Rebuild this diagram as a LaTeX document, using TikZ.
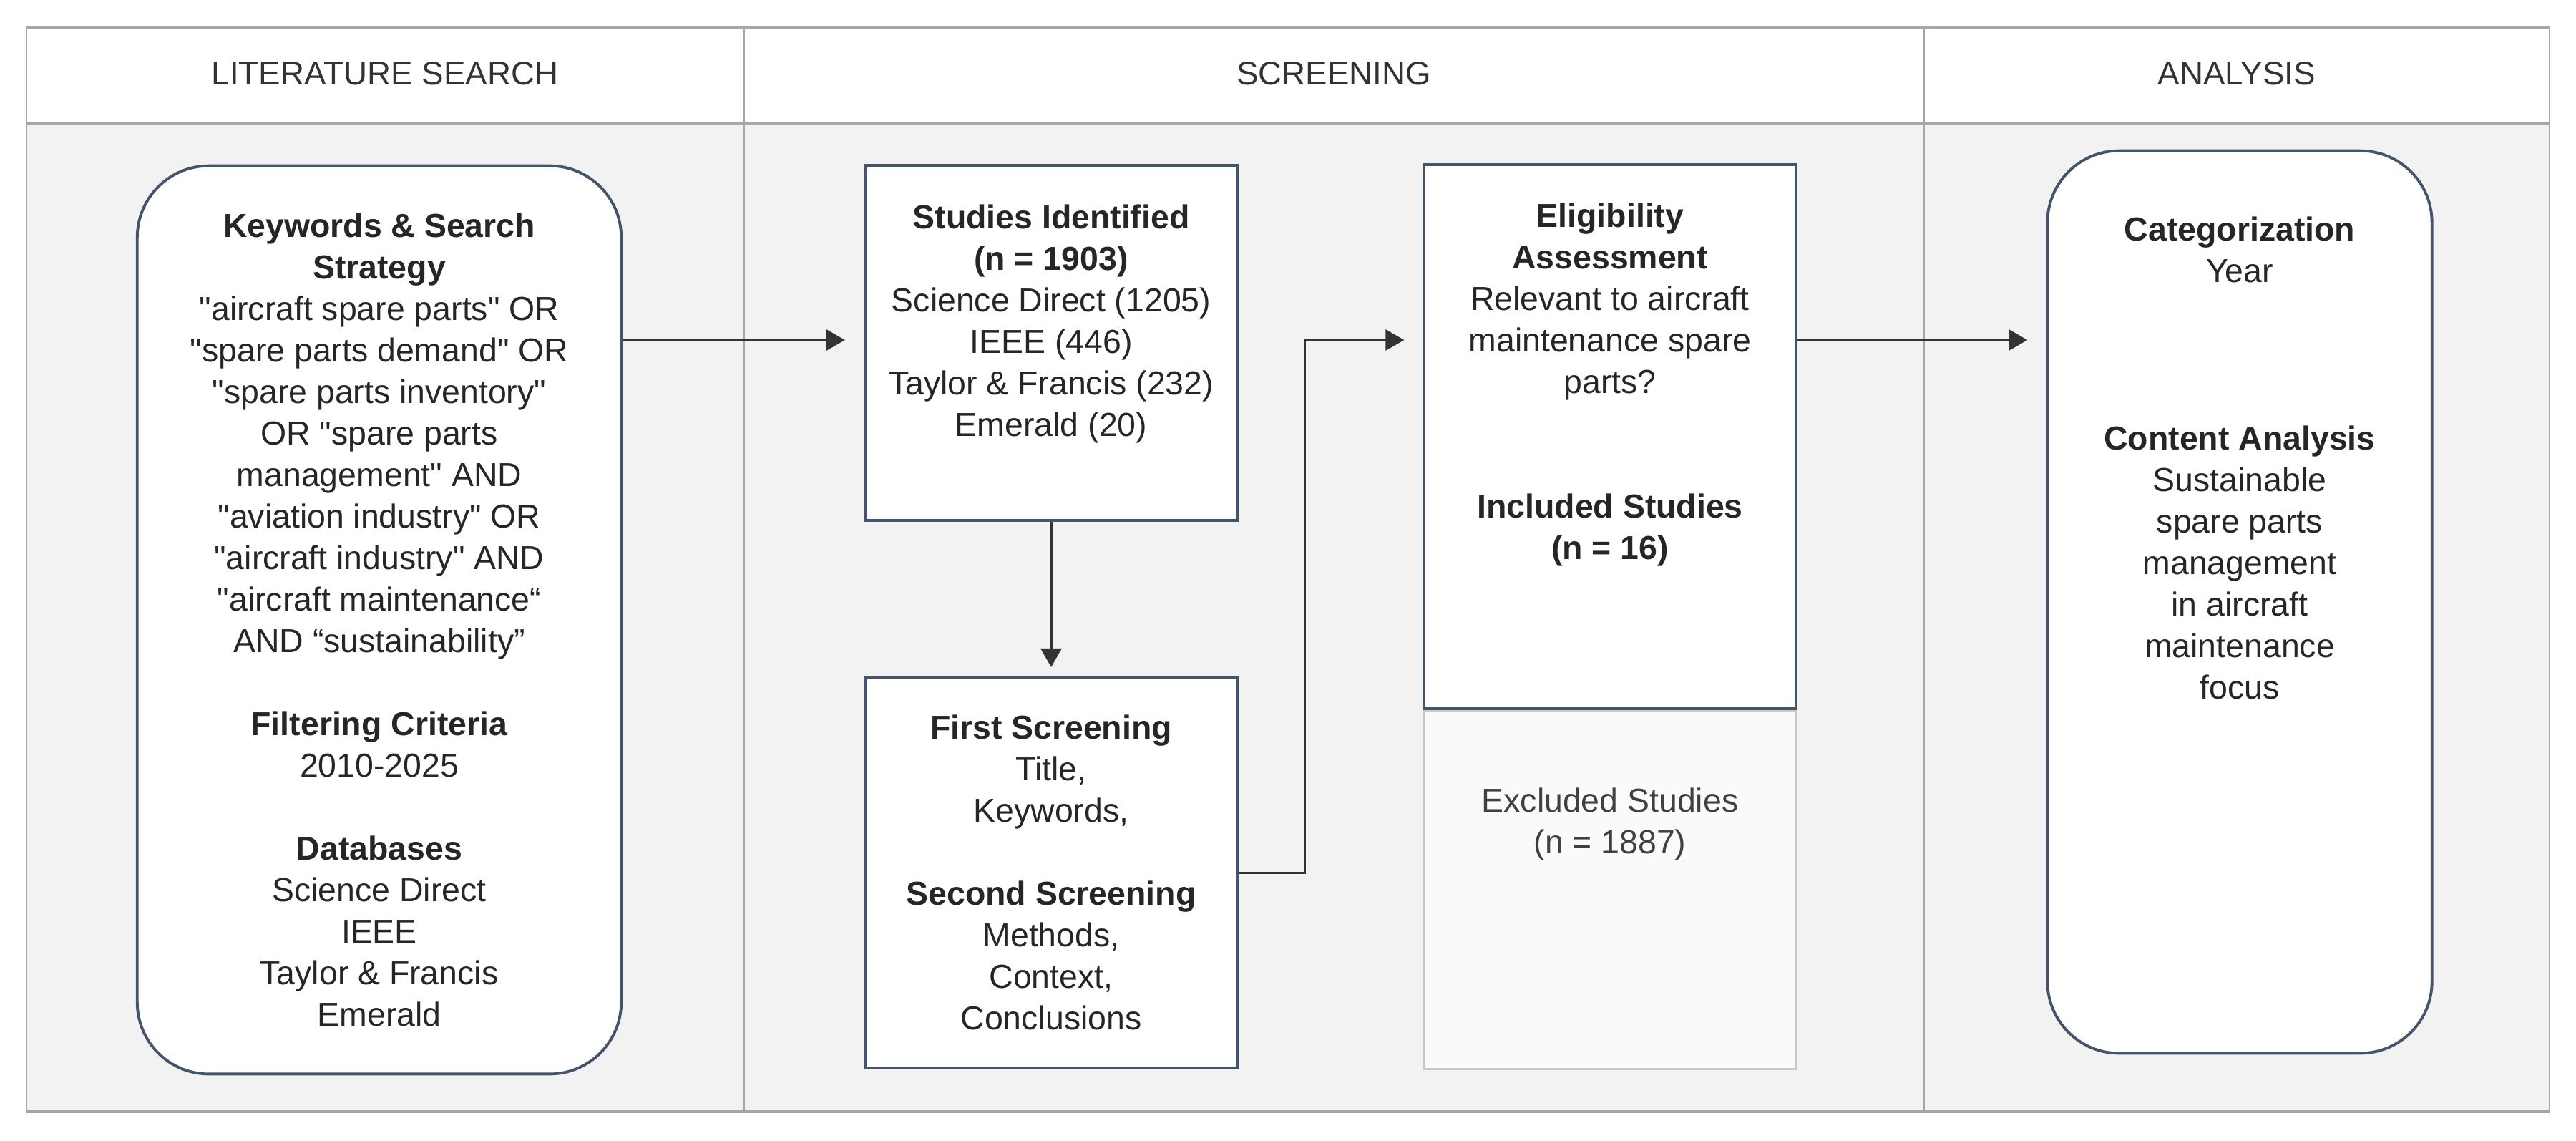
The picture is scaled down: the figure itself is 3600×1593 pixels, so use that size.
\documentclass[tikz,border=0pt]{standalone}
\usepackage{fontspec}
\setmainfont{Liberation Sans}
\newfontfamily\diagfont{Liberation Sans}
\usetikzlibrary{arrows.meta,positioning}
\definecolor{boxline}{HTML}{44546A}
\definecolor{frameline}{HTML}{A6A6A6}
\definecolor{bodyfill}{HTML}{F2F2F2}
\definecolor{outfill}{HTML}{FAFAFA}
\definecolor{outline}{HTML}{C8C8C8}
\tikzset{>={Triangle[length=2.6mm,width=2.9mm]},every node/.style={font=\diagfont\fontsize{13.2}{16.5}\selectfont,text=black!85},
card/.style={draw=boxline,line width=1.1pt,fill=white,inner sep=0pt,align=center},
roundcard/.style={card,rounded corners=1cm},
body/.style={align=center,inner sep=0pt},
head/.style={font=\diagfont\fontsize{13}{16}\selectfont,text=black!80},
flow/.style={line width=.85pt,draw=black!80,->,shorten >=2.6mm}}

\begin{document}
\begin{tikzpicture}[x=0.01cm,y=-0.01cm]
% Trois colonnes : recherche, tri des études, analyse.
\useasboundingbox (0,0) rectangle (3600,1593);
\fill[white] (37,39) rectangle (3563,172);
\fill[bodyfill] (37,172) rectangle (3563,1553);
\draw[frameline,line width=1pt] (37,39)--(3563,39) (37,172)--(3563,172) (37,1553)--(3563,1553);
\foreach \x in {37,1040,2689,3563}{
\draw[frameline,line width=.6pt] (\x,39)--(\x,1553);}
\node[head] (hsearch) at (538,103){LITERATURE SEARCH};
\node[head] (hscreen) at (1864,103){SCREENING};
\node[head] (hanalysis) at (3126,103){ANALYSIS};

\node[roundcard,minimum width=6.76cm,minimum height=12.68cm] (search) at (530,866){%
\textbf{Keywords \& Search}\\ \textbf{Strategy}\\
"aircraft spare parts" OR\\ "spare parts demand" OR\\ "spare parts inventory"\\
OR "spare parts\\ management" AND\\ "aviation industry" OR\\ "aircraft industry" AND\\
"aircraft maintenance“\\ AND “sustainability”\\[16.5pt]
\textbf{Filtering Criteria}\\ 2010-2025\\[16.5pt]
\textbf{Databases}\\ Science Direct\\ IEEE\\ Taylor \& Francis\\ Emerald};

\node[card,minimum width=5.2cm,minimum height=4.96cm] (ident) at (1469,479){};
\node[body,anchor=north] (identtxt) at (1469,285){%
\textbf{Studies Identified}\\ \textbf{(n = 1903)}\\ Science Direct (1205)\\
IEEE (446)\\ Taylor \& Francis (232)\\ Emerald (20)};

\node[card,minimum width=5.2cm,minimum height=5.46cm] (screen) at (1469,1219){%
\textbf{First Screening}\\ Title,\\ Keywords,\\[16.5pt]
\textbf{Second Screening}\\ Methods,\\ Context,\\ Conclusions};

\node[card,minimum width=5.19cm,minimum height=7.59cm] (elig) at (2250,610){};
\node[body,anchor=north] (eligtxt) at (2250,283){%
\textbf{Eligibility}\\ \textbf{Assessment}\\ Relevant to aircraft\\ maintenance spare\\ parts?\\[33pt]
\textbf{Included Studies}\\ \textbf{(n = 16)}};
\node[draw=outline,fill=outfill,line width=.8pt,minimum width=5.19cm,minimum height=5cm,anchor=north] (excl) at (elig.south){};
\node[body,anchor=north,text=black!75] (excltxt) at (2250,1100){Excluded Studies\\ (n = 1887)};

\node[roundcard,minimum width=5.37cm,minimum height=12.6cm] (analysis) at (3130,841){};
\node[body,anchor=north] (analysistxt) at (3130,302){%
\textbf{Categorization}\\ Year\\[50pt]
\textbf{Content Analysis}\\ Sustainable\\ spare parts\\ management\\ in aircraft\\ maintenance\\ focus};

\coordinate (mainrow) at (0,475);
\coordinate (bend) at (1823,475);
\draw[flow] (search.east |- mainrow)--(ident.west |- mainrow);
\draw[flow,shorten >=1.2mm] (ident.south)--(screen.north);
\draw[flow] (screen.east) -| (bend)--(elig.west |- mainrow);
\draw[flow] (elig.east |- mainrow)--(analysis.west |- mainrow);
\end{tikzpicture}
\end{document}
